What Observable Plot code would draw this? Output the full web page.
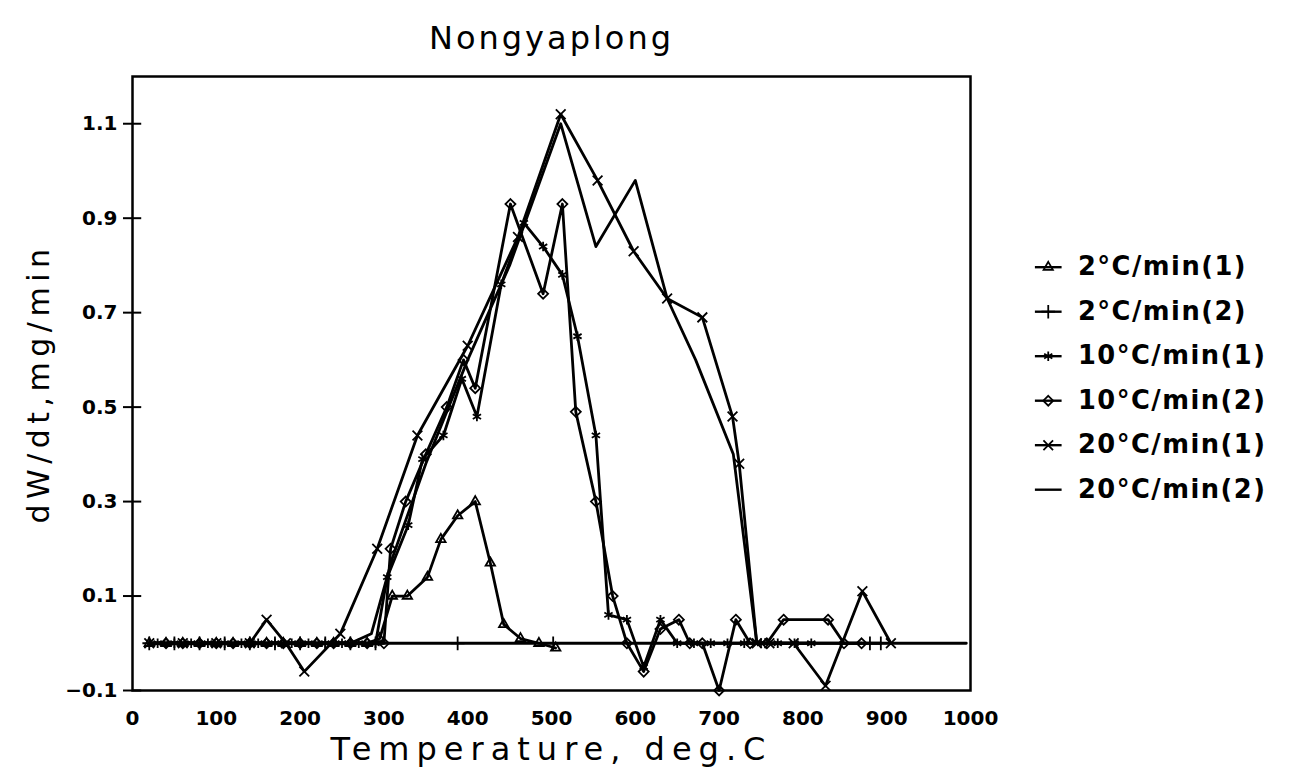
<!DOCTYPE html>
<html><head><meta charset="utf-8">
<script src="https://cdn.jsdelivr.net/npm/d3@7"></script>
<script src="https://cdn.jsdelivr.net/npm/@observablehq/plot@0.6"></script>
<style>
body{margin:0;background:#fff;}
#wrap{position:relative;width:1292px;height:775px;overflow:hidden;}
#legend{position:absolute;left:1025px;top:241px;}
</style></head><body><div id="wrap"><div id="chart"></div><div id="legend"></div></div>
<script>
// ---- data ----
const titleText = "Nongyaplong";
const xLabel = "Temperature, deg.C";
const yLabel = "dW/dt,mg/min";
const seriesNames = ["2°C/min(1)", "2°C/min(2)", "10°C/min(1)", "10°C/min(2)", "20°C/min(1)", "20°C/min(2)"];
const seriesSymbols = ["triangle2", "plus", "asterisk", "diamond2", "times", null];
const xTicks = [0,100,200,300,400,500,600,700,800,900,1000];
const yTicks = [-0.1,0.1,0.3,0.5,0.7,0.9,1.1];

const t2a = [20,40,60,80,100,120,140,160,180,200,220,240,260,280,295,310,328,352,368,388,409,427,443,463,485,505];
const v2a = [0,0,0,0,0,0,0,0,0,0,0,0,0,0,0.01,0.10,0.10,0.14,0.22,0.27,0.30,0.17,0.04,0.01,0,-0.01];

const t2b = [20,50,80,110,140,170,200,230,260,290,388,502,880,893];
const v2b = [0,0,0,0,0,0,0,0,0,0,0,0,0,0];

const t10a = [30,50,70,90,110,130,150,170,190,210,230,250,270,290,304,329,346,371,393,411,440,467,490,513,531,553,568,590,610,630,650,670,690,710,730,750,770,790,810];
const v10a = [0,0,0,0,0,0,0,0,0,0,0,0,0,0,0.14,0.25,0.39,0.44,0.56,0.48,0.76,0.89,0.84,0.78,0.65,0.44,0.06,0.05,-0.05,0.05,0,0,0,0,0,0,0,0,0];

const t10b = [40,60,80,100,120,140,160,180,200,220,240,260,280,300,308,326,350,375,395,409,451,490,513,529,553,573,590,610,630,652,665,680,700,720,737,757,777,830,849,870];
const v10b = [0,0,0,0,0,0,0,0,0,0,0,0,0,0,0.20,0.30,0.40,0.50,0.60,0.54,0.93,0.74,0.93,0.49,0.30,0.10,0,-0.06,0.03,0.05,0,0,-0.1,0.05,0,0,0.05,0.05,0,0];

const t20a = [20,60,100,140,160,183,205,248,292,340,400,460,511,555,598,638,680,716,724,745,760,789,827,871,905];
const v20a = [0,0,0,0,0.05,0,-0.06,0.02,0.20,0.44,0.63,0.86,1.12,0.98,0.83,0.73,0.69,0.48,0.38,0,0,0,-0.09,0.11,0];

const t20b = [20,100,180,260,285,310,350,400,450,511,553,600,638,672,717,745,995];
const v20b = [0,0,0,0,0.02,0.18,0.38,0.60,0.80,1.10,0.84,0.98,0.73,0.60,0.40,0,0];

const seriesT = [t2a, t2b, t10a, t10b, t20a, t20b];
const seriesV = [v2a, v2b, v10a, v10b, v20a, v20b];

// ---- build rows ----
const rows = [];
seriesNames.forEach((name, i) => {
  seriesT[i].forEach((t, j) => rows.push({series: name, T: t, v: seriesV[i][j]}));
});

const labelFont = "DejaVu Sans";
const dotMarks = seriesNames.map((name, i) => seriesSymbols[i] ?
  Plot.dot(rows.filter(d => d.series === name), {x: "T", y: "v", symbol: seriesSymbols[i], r: 4.5, stroke: "black", strokeWidth: 1.8, fill: "none"}) : null).filter(Boolean);

const chart = Plot.plot({
  width: 1292, height: 775,
  marginLeft: 132, marginRight: 322, marginTop: 76, marginBottom: 85,
  x: {domain: [0, 1000]},
  y: {domain: [-0.1, 1.2]},
  style: {fontFamily: labelFont, fontSize: "20px", fontWeight: "bold", background: "white", color: "black"},
  marks: [
    Plot.frame({stroke: "black", strokeWidth: 2.5}),
    Plot.axisX({ticks: xTicks, tickSize: 0, tickPadding: 20, fontSize: 20, label: null, tickFormat: d => String(d)}),
    Plot.axisY({ticks: yTicks, tickSize: 9, tickPadding: 6, fontSize: 20, label: null, strokeWidth: 2, tickFormat: d => (d < 0 ? "\u2212" : "") + Math.abs(d).toFixed(1)}),
    Plot.ruleY(yTicks, {x1: 0, x2: 11, stroke: "black", strokeWidth: 2}),
    Plot.line(rows, {x: "T", y: "v", z: "series", stroke: "black", strokeWidth: 2.8}),
    ...dotMarks,
    Plot.text([titleText], {frameAnchor: "top", textAnchor: "middle", lineAnchor: "middle", dy: -38, fontSize: 32, fontWeight: "normal", fill: "black"}),
    Plot.text([xLabel], {frameAnchor: "bottom", textAnchor: "middle", lineAnchor: "middle", dy: 59, fontSize: 32, fontWeight: "normal", fill: "black"}),
    Plot.text([yLabel], {frameAnchor: "left", textAnchor: "middle", lineAnchor: "middle", dx: -93, rotate: -90, fontSize: 30, fontWeight: "normal", fill: "black"})
  ]
});
document.getElementById("chart").appendChild(chart);
const spacing = {[titleText]: "3px", [xLabel]: "7px", [yLabel]: "5.5px"};
d3.select(chart).selectAll("text").each(function() {
  const s = spacing[this.textContent];
  if (s) this.style.letterSpacing = s;
});

const legendDots = seriesNames.map((name, i) => seriesSymbols[i] ?
  Plot.dot([name], {x: () => 23, y: d => d, symbol: seriesSymbols[i], r: 4.5, stroke: "black", strokeWidth: 1.8, fill: "none"}) : null).filter(Boolean);

const legend = Plot.plot({
  width: 270, height: 290, margin: 0,
  x: {domain: [0, 270], range: [0, 270], axis: null},
  y: {type: "point", padding: 0, domain: seriesNames, range: [24, 24 + 5 * 45.6], axis: null},
  style: {fontFamily: labelFont, background: "transparent", color: "black"},
  marks: [
    Plot.ruleY(seriesNames, {y: d => d, x1: 10, x2: 37, stroke: "black", strokeWidth: 2.4}),
    ...legendDots,
    Plot.text(seriesNames, {y: d => d, x: () => 53, text: d => d, textAnchor: "start", fontSize: 26, fontWeight: "bold", fill: "black"})
  ]
});
document.getElementById("legend").appendChild(legend);
d3.select(legend).selectAll("text").style("letter-spacing", "1.5px");
</script></body></html>
